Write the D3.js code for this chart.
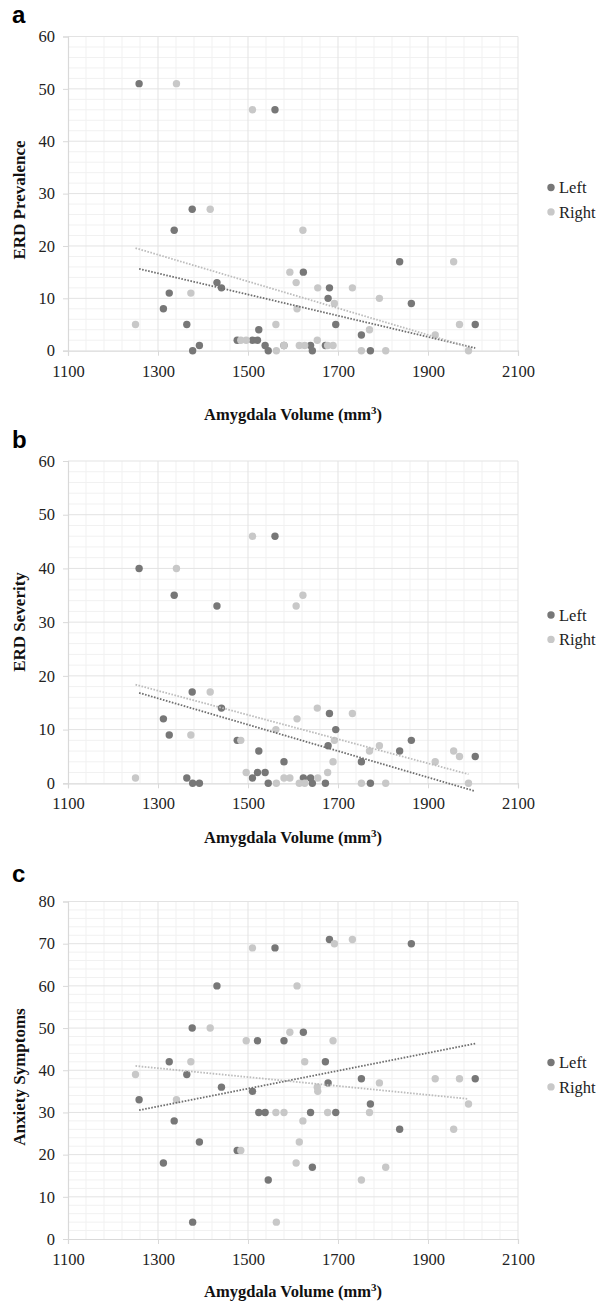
<!DOCTYPE html>
<html>
<head>
<meta charset="utf-8">
<script src="https://cdn.jsdelivr.net/npm/d3@7"></script>
<style>
  html, body { margin: 0; padding: 0; background: #fff; }
  svg { display: block; }
</style>
</head>
<body>
<svg id="chart" width="606" height="1305"></svg>
<script>
// ---- data ----
const series = ["Left", "Right"];
const xTicks = [1100, 1300, 1500, 1700, 1900, 2100];
const yTicksSixty = [0, 10, 20, 30, 40, 50, 60];
const yTicksEighty = [0, 10, 20, 30, 40, 50, 60, 70, 80];

const leftVolume  = [1258, 1312, 1325, 1336, 1364, 1376, 1377, 1392, 1431, 1441, 1476, 1510, 1521, 1524, 1538, 1545, 1560, 1580, 1623, 1639, 1643, 1672, 1678, 1681, 1695, 1752, 1772, 1837, 1863, 2005];
const rightVolume = [1250, 1341, 1373, 1416, 1484, 1496, 1510, 1562, 1563, 1580, 1593, 1607, 1609, 1614, 1622, 1626, 1654, 1655, 1677, 1689, 1692, 1732, 1752, 1770, 1792, 1806, 1916, 1957, 1970, 1990];

const leftPrevalence  = [51, 8, 11, 23, 5, 27, 0, 1, 13, 12, 2, 2, 2, 4, 1, 0, 46, 1, 15, 1, 0, 1, 10, 12, 5, 3, 0, 17, 9, 5];
const rightPrevalence = [5, 51, 11, 27, 2, 2, 46, 5, 0, 1, 15, 13, 8, 1, 23, 1, 2, 12, 1, 1, 9, 12, 0, 4, 10, 0, 3, 17, 5, 0];

const leftSeverity  = [40, 12, 9, 35, 1, 17, 0, 0, 33, 14, 8, 1, 2, 6, 2, 0, 46, 4, 1, 1, 0, 0, 7, 13, 10, 4, 0, 6, 8, 5];
const rightSeverity = [1, 40, 9, 17, 8, 2, 46, 10, 0, 1, 1, 33, 12, 0, 35, 0, 14, 1, 2, 4, 8, 13, 0, 6, 7, 0, 4, 6, 5, 0];

const leftAnxiety  = [33, 18, 42, 28, 39, 50, 4, 23, 60, 36, 21, 35, 47, 30, 30, 14, 69, 47, 49, 30, 17, 42, 37, 71, 30, 38, 32, 26, 70, 38];
const rightAnxiety = [39, 33, 42, 50, 21, 47, 69, 30, 4, 30, 49, 18, 60, 23, 28, 42, 36, 35, 30, 47, 70, 71, 14, 30, 37, 17, 38, 26, 38, 32];

// ---- layout / style ----
const colors = { Left: "#777777", Right: "#c8c8c8" };
const trendColors = { Left: "#6f6f6f", Right: "#bdbdbd" };
const serif = "'Liberation Serif', 'Times New Roman', serif";
const sans = "'Liberation Sans', Arial, sans-serif";

const panels = [
  { label: "a", labelY: 23, top: 36.5, bottom: 350.7, yTicks: yTicksSixty, yTitle: "ERD Prevalence", yTitleY: 200,
    left: leftPrevalence, right: rightPrevalence, xTitleY: 420, legendY: 187.5 },
  { label: "b", labelY: 448, top: 461, bottom: 783.3, yTicks: yTicksSixty, yTitle: "ERD Severity", yTitleY: 622,
    left: leftSeverity, right: rightSeverity, xTitleY: 843, legendY: 615 },
  { label: "c", labelY: 882, top: 901.5, bottom: 1239, yTicks: yTicksEighty, yTitle: "Anxiety Symptoms", yTitleY: 1077,
    left: leftAnxiety, right: rightAnxiety, xTitleY: 1297, legendY: 1062.5 }
];

const plotLeft = 68, plotRight = 518;
const svg = d3.select("#chart");

function regression(xs, ys) {
  const mx = d3.mean(xs), my = d3.mean(ys);
  let sxy = 0, sxx = 0;
  xs.forEach((x, i) => { sxy += (x - mx) * (ys[i] - my); sxx += (x - mx) * (x - mx); });
  const b = sxy / sxx;
  return { a: my - b * mx, b };
}

panels.forEach(p => {
  const yMax = p.yTicks[p.yTicks.length - 1];
  const x = d3.scaleLinear().domain([1100, 2100]).range([plotLeft, plotRight]);
  const y = d3.scaleLinear().domain([0, yMax]).range([p.bottom, p.top]);
  const g = svg.append("g");

  // minor gridlines
  const xMinor = d3.range(1100, 2100.1, 40).filter(v => !xTicks.includes(v));
  const yMinor = d3.range(0, yMax + 0.1, 2).filter(v => !p.yTicks.includes(v));
  g.append("g").selectAll("line").data(xMinor).join("line")
    .attr("x1", d => x(d)).attr("x2", d => x(d)).attr("y1", p.top).attr("y2", p.bottom)
    .attr("stroke", "#f1f1f1").attr("stroke-width", 1);
  g.append("g").selectAll("line").data(yMinor).join("line")
    .attr("x1", plotLeft).attr("x2", plotRight).attr("y1", d => y(d)).attr("y2", d => y(d))
    .attr("stroke", "#f1f1f1").attr("stroke-width", 1);

  // major gridlines
  g.append("g").selectAll("line").data(xTicks.slice(1)).join("line")
    .attr("x1", d => x(d)).attr("x2", d => x(d)).attr("y1", p.top).attr("y2", p.bottom)
    .attr("stroke", "#e3e3e3").attr("stroke-width", 1);
  g.append("g").selectAll("line").data(p.yTicks.slice(1)).join("line")
    .attr("x1", plotLeft).attr("x2", plotRight).attr("y1", d => y(d)).attr("y2", d => y(d))
    .attr("stroke", "#e3e3e3").attr("stroke-width", 1);

  // axes
  const xAxis = d3.axisBottom(x).tickValues(xTicks).tickSize(5).tickPadding(6).tickFormat(d3.format("d"));
  const yAxis = d3.axisLeft(y).tickValues(p.yTicks).tickSize(5).tickPadding(8).tickFormat(d3.format("d"));
  const xa = g.append("g").attr("transform", `translate(0,${p.bottom})`).call(xAxis);
  const ya = g.append("g").attr("transform", `translate(${plotLeft},0)`).call(yAxis);
  [xa, ya].forEach(a => {
    a.select(".domain").attr("stroke", "#d9d9d9").attr("stroke-width", 1.2);
    a.selectAll(".tick line").attr("stroke", "#d9d9d9");
    a.selectAll(".tick text").attr("fill", "#222").attr("font-family", serif).attr("font-size", 16.5);
  });
  xa.selectAll(".tick text").attr("dy", "0.9em");

  // points
  const sets = { Left: { xs: leftVolume, ys: p.left }, Right: { xs: rightVolume, ys: p.right } };
  series.forEach(s => {
    const pts = sets[s].xs.map((v, i) => [v, sets[s].ys[i]]);
    g.append("g").selectAll("circle").data(pts).join("circle")
      .attr("cx", d => x(d[0])).attr("cy", d => y(d[1])).attr("r", 3.7)
      .attr("fill", colors[s]);
  });

  // linear trendlines
  series.forEach(s => {
    const xs = sets[s].xs, ys = sets[s].ys;
    const r = regression(xs, ys);
    const x0 = d3.min(xs), x1 = d3.max(xs);
    g.append("line")
      .attr("x1", x(x0)).attr("y1", y(r.a + r.b * x0))
      .attr("x2", x(x1)).attr("y2", y(r.a + r.b * x1))
      .attr("stroke", trendColors[s]).attr("stroke-width", 1.8)
      .attr("stroke-dasharray", "1.6,1.5");
  });

  // axis titles
  g.append("text")
    .attr("transform", `translate(25,${p.yTitleY}) rotate(-90)`)
    .attr("text-anchor", "middle").attr("font-family", serif).attr("font-weight", "bold")
    .attr("font-size", 17).attr("fill", "#111").text(p.yTitle);
  const xt = g.append("text")
    .attr("x", (plotLeft + plotRight) / 2).attr("y", p.xTitleY)
    .attr("text-anchor", "middle").attr("font-family", serif).attr("font-weight", "bold")
    .attr("font-size", 16.5).attr("fill", "#111");
  xt.append("tspan").text("Amygdala Volume (mm");
  xt.append("tspan").attr("font-size", 11).attr("dy", -6).text("3");
  xt.append("tspan").attr("dy", 6).text(")");

  // panel label
  g.append("text").attr("x", 12).attr("y", p.labelY)
    .attr("font-family", sans).attr("font-weight", "bold").attr("font-size", 24)
    .attr("fill", "#000").text(p.label);

  // legend
  const lg = g.append("g").attr("transform", `translate(551,${p.legendY})`);
  series.forEach((s, i) => {
    lg.append("circle").attr("cx", 0).attr("cy", i * 24.4).attr("r", 3.7).attr("fill", colors[s]);
    lg.append("text").attr("x", 8).attr("y", i * 24.4).attr("dy", "0.36em")
      .attr("font-family", serif).attr("font-size", 16.5).attr("fill", "#222").text(s);
  });
});
</script>
</body>
</html>
